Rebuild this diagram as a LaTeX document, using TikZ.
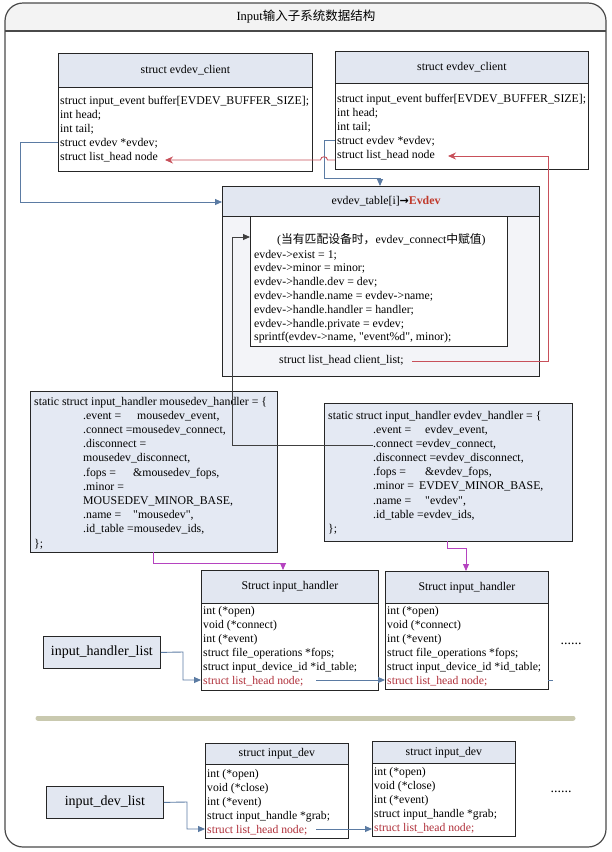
\documentclass[tikz,border=0pt]{standalone}
\usepackage{fontspec}
\setmainfont{Liberation Serif}
\newfontfamily\plainserif{Liberation Serif}
\newfontfamily\cjk{Noto Sans CJK SC}
\newfontfamily\symfont{DejaVu Sans}
\usetikzlibrary{arrows.meta}
\definecolor{framecol}{HTML}{4A4A4A}
\definecolor{boxline}{HTML}{262626}
\definecolor{hdrfill}{HTML}{E2E7F1}
\definecolor{boxfill}{HTML}{E4E9F3}
\definecolor{tblfill}{HTML}{F3F4F8}
\definecolor{lineblue}{HTML}{5B7BA3}
\definecolor{linered}{HTML}{C8505A}
\definecolor{evred}{HTML}{C0392B}
\definecolor{textred}{HTML}{B0303A}
\definecolor{linemag}{HTML}{B543C0}
\definecolor{sepcol}{HTML}{C9C9AF}
\definecolor{titlefill}{HTML}{F3F3F3}
\definecolor{darkline}{HTML}{404040}
\newcommand\diagbody{\fontsize{11.8}{14.2}\selectfont}
\newcommand\diaginner{\fontsize{11.8}{13.8}\selectfont}
\newcommand\diagsmall{\fontsize{11.7}{14}\selectfont}
\newcommand\sq[1]{{\plainserif "#1"}}
\begin{document}
\begin{tikzpicture}[x=1pt,y=-1pt,
  box/.style={draw=boxline, line width=0.8pt, inner sep=0pt, anchor=north west},
  hdr/.style={box, fill=hdrfill, font=\diagbody},
  code/.style={anchor=base west, inner sep=0pt, font=\diagbody},
  codeinner/.style={anchor=base west, inner sep=0pt, font=\diaginner},
  codesmall/.style={anchor=base west, inner sep=0pt, font=\diagsmall},
  bluearrow/.style={draw=lineblue, line width=0.9pt, -{Triangle[length=7pt,width=6pt]}},
  blueline/.style={draw=lineblue, line width=0.9pt},
  redarrow/.style={draw=linered, line width=0.9pt, -{Stealth[length=8pt,width=7pt]}},
  magarrow/.style={draw=linemag, line width=0.9pt, -{Triangle[length=7pt,width=6pt]}},
  darkarrow/.style={draw=darkline, line width=0.9pt, -{Triangle[length=7pt,width=6pt]}},
  listbox/.style={box, fill=hdrfill, font=\fontsize{14}{16}\selectfont},
  dotsst/.style={font=\fontsize{14}{16}\selectfont, inner sep=0pt},
]
\useasboundingbox (0,0) rectangle (612,852);
% outer frame
\begin{scope}
\clip[rounded corners=16pt] (5,3) rectangle (606,847);
\fill[titlefill] (5,3) rectangle (606,31);
\end{scope}
\draw[draw=framecol, line width=1.2pt, rounded corners=18pt] (5,3) rectangle (606,847);
\draw[draw=framecol, line width=1.2pt] (5,31) -- (606,31);
\node[font=\fontsize{12.5}{14}\selectfont, inner sep=0pt] (title) at (306,17) {Input{\cjk 输入子系统数据结构}};

% left evdev_client
\node[box, fill=white, minimum width=254pt, minimum height=118pt] (lcl) at (58,53) {};
\node[hdr, minimum width=254pt, minimum height=34pt] (lclh) at (58,53) {struct evdev\_client};
\node[code] (lclt) at (60,104) {\begin{tabular}[t]{@{}l@{}}struct input\_event buffer[EVDEV\_BUFFER\_SIZE];\\int head;\\int tail;\\struct evdev *evdev;\\struct list\_head node\end{tabular}};

% right evdev_client
\node[box, fill=white, minimum width=253pt, minimum height=118pt] (rcl) at (335,51) {};
\node[hdr, minimum width=253pt, minimum height=32pt] (rclh) at (335,51) {struct evdev\_client};
\node[code] (rclt) at (337,102) {\begin{tabular}[t]{@{}l@{}}struct input\_event buffer[EVDEV\_BUFFER\_SIZE];\\int head;\\int tail;\\struct evdev *evdev;\\struct list\_head node\end{tabular}};

% evdev_table
\node[box, fill=tblfill, minimum width=317pt, minimum height=190pt] (tbl) at (222,186) {};
\node[box, fill=hdrfill, minimum width=317pt, minimum height=30pt] (tblh) at (222,186) {};
\node[font=\diagbody, inner sep=0pt] (tblt) at (386,201) {evdev\_table[i]{\symfont\fontsize{11}{12}\selectfont\bfseries →}\textcolor{evred}{\textbf{Evdev}}};
\node[box, fill=white, minimum width=257pt, minimum height=130pt] (inn) at (250,216) {};
\node[codeinner] (innc) at (277,243.5) {(\cjk 当有匹配设备时，{\rmfamily evdev\_connect}中赋值{\rmfamily )}};
\node[codeinner] (innt) at (254,258) {\begin{tabular}[t]{@{}l@{}}evdev->exist = 1;\\evdev->minor = minor;\\evdev->handle.dev = dev;\\evdev->handle.name = evdev->name;\\evdev->handle.handler = handler;\\evdev->handle.private = evdev;\\sprintf(evdev->name, \sq{event\%d}, minor);\end{tabular}};
\node[code] (clist) at (279,363) {struct list\_head client\_list;};

% mousedev_handler
\node[box, fill=boxfill, minimum width=247pt, minimum height=161pt] (mh) at (30,391) {};
\node[code] (mh1) at (34,405) {static struct input\_handler mousedev\_handler = \{};
\node[code] (mh2) at (83,419.2) {\begin{tabular}[t]{@{}l@{}}\makebox[54pt][l]{.event =}mousedev\_event,\\.connect =mousedev\_connect,\\.disconnect =\\mousedev\_disconnect,\\\makebox[50pt][l]{.fops =}\&mousedev\_fops,\\.minor =\\MOUSEDEV\_MINOR\_BASE,\\\makebox[50pt][l]{.name =}\sq{mousedev},\\.id\_table =mousedev\_ids,\end{tabular}};
\node[code] (mh3) at (34,547) {\};};

% evdev_handler
\node[box, fill=boxfill, minimum width=248pt, minimum height=138pt] (eh) at (324,403) {};
\node[code] (eh1) at (328,419) {static struct input\_handler evdev\_handler = \{};
\node[code] (eh2) at (373,433.1) {\begin{tabular}[t]{@{}l@{}}\makebox[52pt][l]{.event =}evdev\_event,\\.connect =evdev\_connect,\\.disconnect =evdev\_disconnect,\\\makebox[52pt][l]{.fops =}\&evdev\_fops,\\\makebox[46pt][l]{.minor =}EVDEV\_MINOR\_BASE,\\\makebox[52pt][l]{.name =}\sq{evdev},\\.id\_table =evdev\_ids,\end{tabular}};
\node[code] (eh3) at (328,532.5) {\};};

% input_handler structs
\node[box, fill=white, minimum width=177pt, minimum height=120pt] (ih1) at (201,570) {};
\node[hdr, minimum width=177pt, minimum height=33pt] (ih1h) at (201,570) {Struct input\_handler};
\node[codesmall] (ih1t) at (203,614) {\begin{tabular}[t]{@{}l@{}}int (*open)\\void (*connect)\\int (*event)\\struct file\_operations *fops;\\struct input\_device\_id *id\_table;\\\textcolor{textred}{struct list\_head node;}\end{tabular}};

\node[box, fill=white, minimum width=163pt, minimum height=118pt] (ih2) at (385,571) {};
\node[hdr, minimum width=163pt, minimum height=32pt] (ih2h) at (385,571) {Struct input\_handler};
\node[codesmall] (ih2t) at (387,614) {\begin{tabular}[t]{@{}l@{}}int (*open)\\void (*connect)\\int (*event)\\struct file\_operations *fops;\\struct input\_device\_id *id\_table;\\\textcolor{textred}{struct list\_head node;}\end{tabular}};

\node[dotsst] (dots1) at (571,644) {......};
\node[listbox, minimum width=117pt, minimum height=32pt] (ihl) at (43,636) {input\_handler\_list};

% separator
\draw[draw=sepcol, line width=5pt, line cap=round] (38,718) -- (573,718);

% input_dev structs
\node[box, fill=white, minimum width=143pt, minimum height=95pt] (id1) at (205,743) {};
\node[hdr, minimum width=143pt, minimum height=21pt] (id1h) at (205,743) {struct input\_dev};
\node[codesmall] (id1t) at (207,777) {\begin{tabular}[t]{@{}l@{}}int (*open)\\void (*close)\\int (*event)\\struct input\_handle *grab;\\\textcolor{textred}{struct list\_head node;}\end{tabular}};

\node[box, fill=white, minimum width=143pt, minimum height=95pt] (id2) at (372,741) {};
\node[hdr, minimum width=143pt, minimum height=22pt] (id2h) at (372,741) {struct input\_dev};
\node[codesmall] (id2t) at (374,775) {\begin{tabular}[t]{@{}l@{}}int (*open)\\void (*close)\\int (*event)\\struct input\_handle *grab;\\\textcolor{textred}{struct list\_head node;}\end{tabular}};

\node[dotsst] (dots2) at (561,792) {......};
\node[listbox, minimum width=117pt, minimum height=32pt] (idl) at (46,786) {input\_dev\_list};

% connector end points
\coordinate (lcEv) at (58,142);
\coordinate (tblIn) at (222,202);
\coordinate (rcEv) at (335,140);
\coordinate (tblTop) at (380,186);
\coordinate (clEnd) at (412,361);
\coordinate (rcNode) at (448,156);
\coordinate (rcNodeL) at (335,160);
\coordinate (lcNode) at (165,160);
\coordinate (ehConn) at (373,445);
\coordinate (innIn) at (250,237);
\coordinate (mhOut) at (153,552);
\coordinate (ih1In) at (283,570);
\coordinate (ehOut) at (447,541);
\coordinate (ih2In) at (466,571);
\coordinate (ih1Node) at (201,680);
\coordinate (ih1NodeEnd) at (316,680);
\coordinate (ih2Node) at (385,680);
\coordinate (ih2NodeEnd) at (548,680);
\coordinate (id1Node) at (205,829);
\coordinate (id1NodeEnd) at (316,829);
\coordinate (id2Node) at (372,829);

% connectors
\draw[bluearrow] (lcEv) -- (20,142) |- (tblIn);
\draw[bluearrow] (rcEv) -- (324,140) |- (380,178) -- (tblTop);
\draw[redarrow] (clEnd) -- (548,361) |- (rcNode);
\draw[redarrow] (rcNodeL) -- (327.5,160) to[out=90,in=90,looseness=1.6] (320.5,160) -- (lcNode);
\draw[darkarrow] (ehConn) -- (232,445) |- (innIn);
\draw[magarrow] (mhOut) -- (153,563) -| (ih1In);
\draw[magarrow] (ehOut) -- (447,548) -| (ih2In);
\draw[bluearrow] (ihl.east) -- (183,652) |- (ih1Node);
\draw[bluearrow] (ih1NodeEnd) -- (ih2Node);
\draw[blueline] (ih2NodeEnd) -- ++(5,0);
\draw[bluearrow] (idl.east) -- (187,802) |- (id1Node);
\draw[bluearrow] (id1NodeEnd) -- (id2Node);
\end{tikzpicture}
\end{document}
